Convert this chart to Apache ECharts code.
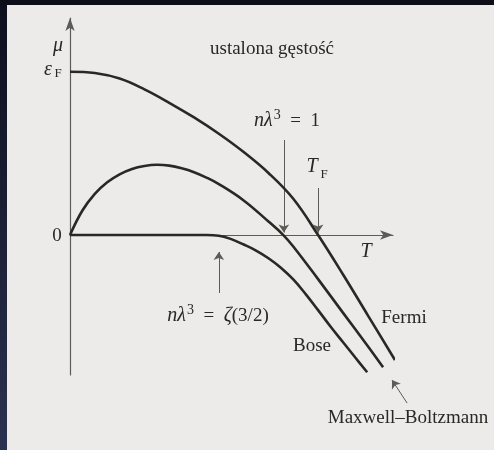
<!DOCTYPE html>
<html>
<head>
<meta charset="utf-8">
<script src="https://cdn.jsdelivr.net/npm/echarts@6/dist/echarts.min.js"></script>
<style>
  html, body { margin: 0; padding: 0; background: #ecebea; }
  #chart { width: 494px; height: 450px; }
</style>
</head>
<body>
<div id="chart"></div>
<script>
// Chemical potential μ(T) of an ideal gas at fixed density.
// T in units of T_F, μ in units of ε_F.
const fermiT  = [0, 0.1, 0.2, 0.3, 0.4, 0.5, 0.6, 0.7, 0.8, 0.9, 1.0, 1.1, 1.2, 1.31];
const fermiMu = [1.000, 0.992, 0.958, 0.892, 0.810, 0.720, 0.620, 0.508, 0.380, 0.222, 0, -0.240, -0.490, -0.765];

const mbT  = [0, 0.05, 0.1, 0.15, 0.2, 0.25, 0.3, 0.35, 0.4, 0.45, 0.5, 0.55, 0.6, 0.7, 0.8, 0.86, 0.9, 1.0, 1.1, 1.2, 1.262];
const mbMu = [0, 0.150, 0.252, 0.323, 0.372, 0.405, 0.423, 0.430, 0.425, 0.409, 0.385, 0.352, 0.312, 0.212, 0.083, 0, -0.070, -0.270, -0.475, -0.680, -0.810];

const boseT  = [0, 0.1, 0.2, 0.3, 0.4, 0.5, 0.55, 0.6, 0.65, 0.7, 0.75, 0.8, 0.85, 0.9, 0.95, 1.0, 1.05, 1.1, 1.15, 1.198];
const boseMu = [0, 0, 0, 0, 0, 0, 0, -0.004, -0.025, -0.058, -0.095, -0.142, -0.200, -0.272, -0.362, -0.460, -0.560, -0.655, -0.750, -0.840];

// Pointer arrows: [fromT, fromMu, toT, toMu]
const arrowNl1   = [0.862, 0.582, 0.862, 0.015];   // nλ³ = 1
const arrowTF    = [1.000, 0.288, 1.000, 0.015];   // T_F
const arrowBose  = [0.600, -0.355, 0.600, -0.104]; // nλ³ = ζ(3/2)
const arrowMB    = [1.359, -1.029, 1.298, -0.888]; // Maxwell–Boltzmann

const xMax = 1.302, yMin = -0.857, yMax = 1.329;

const ink = '#2b2723';
const axisInk = '#5e5a56';
const serif = '"Liberation Serif", "DejaVu Serif", serif';

function zip(xs, ys) { return xs.map((x, i) => [x, ys[i]]); }
function arrow(a) { return { coords: [[a[0], a[1]], [a[2], a[3]]] }; }

function curve(name, xs, ys) {
  return {
    name, type: 'line', data: zip(xs, ys), smooth: 0.4,
    showSymbol: false, clip: false, silent: true,
    lineStyle: { color: ink, width: 2.6 }
  };
}

function txt(x, y, text, size) {
  return { type: 'text', x, y, silent: true,
    style: { text, fill: ink, font: `${size}px ${serif}`, align: 'center', verticalAlign: 'middle' } };
}
function itxt(x, y, text, size) {
  return { type: 'text', x, y, silent: true,
    style: { text, fill: ink, font: `italic ${size}px ${serif}`, align: 'center', verticalAlign: 'middle' } };
}
const mathRich = {
  i: { font: `italic 20px ${serif}`, fill: ink, verticalAlign: 'middle' },
  r: { font: `19px ${serif}`, fill: ink, verticalAlign: 'middle' },
  p: { font: `14px ${serif}`, fill: ink, verticalAlign: 'middle', padding: [0, 0, 11, 1] }
};

const chart = echarts.init(document.getElementById('chart'), null, { renderer: 'canvas' });

chart.setOption({
  backgroundColor: '#ecebea',
  animation: false,
  grid: { left: 70, right: 101, top: 18, bottom: 75 },
  xAxis: {
    type: 'value', min: 0, max: xMax,
    axisLine: { onZero: true, symbol: ['none', 'arrow'], symbolSize: [7, 13], lineStyle: { color: axisInk, width: 1.2 } },
    axisTick: { show: false }, axisLabel: { show: false }, splitLine: { show: false }
  },
  yAxis: {
    type: 'value', min: yMin, max: yMax,
    axisLine: { show: true, onZero: false, symbol: ['none', 'arrow'], symbolSize: [7, 13], lineStyle: { color: axisInk, width: 1.2 } },
    axisTick: { show: false }, axisLabel: { show: false }, splitLine: { show: false }
  },
  series: [
    curve('Fermi', fermiT, fermiMu),
    curve('Maxwell–Boltzmann', mbT, mbMu),
    curve('Bose', boseT, boseMu),
    {
      type: 'lines', coordinateSystem: 'cartesian2d', clip: false, silent: true,
      symbol: ['none', 'arrow'], symbolSize: 8,
      lineStyle: { color: axisInk, width: 1, curveness: 0, opacity: 1 },
      data: [arrowNl1, arrowTF, arrowBose, arrowMB].map(arrow)
    }
  ],
  graphic: [
    // scanned page border
    { type: 'rect', shape: { x: 0, y: 0, width: 7, height: 450 }, silent: true,
      style: { fill: new echarts.graphic.LinearGradient(0, 0, 0, 1, [{ offset: 0, color: '#0c0f1c' }, { offset: 1, color: '#2b3150' }]) } },
    { type: 'rect', shape: { x: 0, y: 0, width: 494, height: 5 }, silent: true, style: { fill: '#0c0f1a' } },

    txt(272, 49, 'ustalona gęstość', 19),
    itxt(58, 46, 'μ', 20),
    itxt(48, 70, 'ε', 20),
    txt(58, 74, 'F', 13),
    txt(57, 236, '0', 19),
    itxt(366, 252, 'T', 20),
    // nλ³ = 1
    { type: 'text', x: 287, y: 121, silent: true,
      style: { text: '{i|nλ}{p|3}{r|  =  1}', align: 'center', verticalAlign: 'middle', rich: mathRich } },
    // T_F
    itxt(312, 167, 'T', 20),
    txt(324, 175, 'F', 13),
    // nλ³ = ζ(3/2)
    { type: 'text', x: 218, y: 316, silent: true,
      style: { text: '{i|nλ}{p|3}{r|  =  }{i|ζ}{r|(3/2)}', align: 'center', verticalAlign: 'middle', rich: mathRich } },
    txt(404, 318, 'Fermi', 19),
    txt(312, 346, 'Bose', 19),
    txt(408, 418, 'Maxwell–Boltzmann', 19)
  ]
});
</script>
</body>
</html>
